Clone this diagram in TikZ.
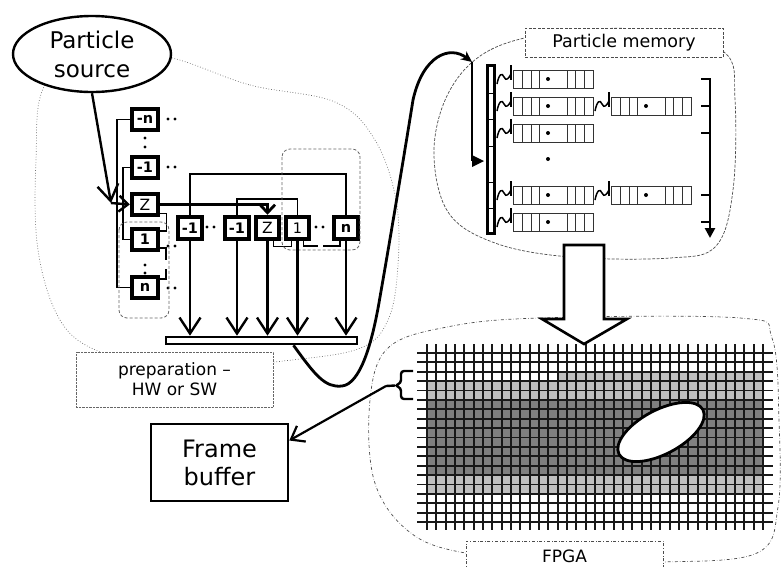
\documentclass[tikz,border=0pt]{standalone}
\usepackage{fontspec}
\setmainfont{DejaVu Sans}
\usetikzlibrary{shapes.geometric,arrows.meta,positioning}

\newcommand{\record}[2]{%
  \begin{scope}[shift={(#1,#2)}, line width=0.9pt]
 \draw[black!80] (0,0) rectangle (80,18);
 \foreach \u in {9,18,26,54,62,71} \draw[black!80] (\u,0) -- (\u,18);
 \fill (35,9) circle (2);
\end{scope}}

\newcommand{\squig}[2]{%
  \begin{scope}[shift={(#1,#2)}, line width=1.5pt]
 \draw (0,14) .. controls (2,4) and (5,2) .. (7,7) .. controls (9,12) and (12,8) .. (14,4);
 \draw (14,-5) -- (14,10);
\end{scope}}

\newcommand{\twodots}[2]{\fill (#1,#2) circle (1.7) ++(7,0) circle (1.7);}

\begin{document}
\begin{tikzpicture}[x=1pt, y=-1pt,
  cell/.style={draw, line width=3.6pt, minimum width=26.5pt, minimum height=21.5pt, inner sep=0pt, font=\fontsize{14.5}{14.5}\selectfont\bfseries},
  rcell/.style={cell, minimum width=23.5pt, minimum height=22.5pt},
  zcell/.style={line width=4pt, font=\fontsize{15.5}{15.5}\selectfont\mdseries},
  wire/.style={line width=1.3pt},
  vee/.style={-{Straight Barb[length=16pt,width=21pt]}, line width=2.4pt},
  tag/.style={draw=black!60, densely dotted, fill=white, inner sep=0pt, align=center},
  outline/.style={draw=black!60, dotted, line width=0.7pt}]
\useasboundingbox (0,0) rectangle (782,566);

% regions
\draw[outline] plot [smooth cycle, tension=0.6] coordinates {(172,58) (250,85) (335,102) (375,140) (396,200) (398,265) (388,320) (358,349) (275,362) (180,372) (100,352) (60,320) (38,250) (36,160) (45,85) (100,50)};
\draw[draw=black!70, dash pattern=on 3pt off 1.5pt, line width=0.7pt] plot [smooth cycle, tension=0.6] coordinates {(560,32) (490,50) (450,90) (434,150) (448,212) (495,243) (570,257) (670,258) (716,246) (733,190) (735,100) (724,52) (650,30)};
\draw[draw=black!70, dash dot, line width=0.7pt] plot [smooth cycle, tension=0.6] coordinates {(447,327) (540,318) (740,318) (772,338) (779,420) (778,507) (757,553) (663,562) (560,560) (460,552) (407,530) (374,480) (370,400) (388,348)};

\node[ellipse, draw, line width=2.4pt, fill=white, minimum width=158pt, minimum height=76pt, inner sep=0pt, align=center, font=\fontsize{23}{29}\selectfont] (src) at (92,54) {Particle\\source};

% left column
\node[cell] (mn) at (145,119.5) {-n};
\node[cell] (m1) at (145,167.5) {-1};
\node[cell, zcell] (z0) at (145,204.5) {Z};
\node[cell] (p1) at (145,239.5) {1};
\node[cell] (pn) at (145,287.5) {n};
\fill (145,138) circle (1.7) (145,147) circle (1.7) (145,265) circle (1.7) (145,273) circle (1.7);
\twodots{168}{119} \twodots{168}{167} \twodots{168}{246} \twodots{168}{288}
\draw[wire] (mn.west) -- ++(-13,0) |- (pn.west);
\draw[wire] (m1.west) -- ++(-7,0) |- (p1.west);
\draw[wire] ([yshift=4pt]z0.south east) -- ++(6,0) |- ([yshift=-4pt]p1.north east);
\draw[wire] ([yshift=4pt]p1.south east) -- ++(6,0) -- ++(0,12);
\draw[wire] ([yshift=-4pt]pn.north east) -- ++(6,0) -- ++(0,-10);
\draw[black!60, densely dashed, line width=0.8pt, rounded corners=8pt] (119,222) rectangle (169,318);

\coordinate (entry) at (111,203);
\draw[vee] (src.south) -- (entry);
\draw[-{Straight Barb[length=9pt,width=16pt]}, line width=2.4pt] (entry) -- (z0.west);

% row
\node[rcell] (r1) at (190,228) {-1};
\node[rcell] (r2) at (237,228) {-1};
\node[rcell, zcell] (rz) at (267.5,228) {Z};
\node[rcell, font=\fontsize{14.5}{14.5}\selectfont\mdseries] (r3) at (297.5,228) {1};
\node[rcell] (rn) at (346,228) {n};
\twodots{207}{227} \twodots{316}{227}
\draw[wire] (r1.north) -- ++(0,-41) -| (rn.north);
\draw[wire] (r2.north) -- ++(0,-16) -| (r3.north);
\draw[line width=2.8pt, -{Straight Barb[length=8pt,width=15pt]}] (z0.east) -| (rz.north);
\draw[wire] ([xshift=6pt]rz.south) -- ++(0,5) -| ([xshift=-6pt]r3.south);
\draw[wire] ([xshift=6pt]r3.south) -- ++(0,5) -- ++(14,0);
\draw[wire] ([xshift=-6pt]rn.south) -- ++(0,5) -- ++(-17,0);
\draw[black!60, densely dashed, line width=0.8pt, rounded corners=8pt] (282,149) rectangle (360,250);

\node[draw, line width=2.6pt, minimum width=191pt, minimum height=7pt, inner sep=0pt] (bar) at (261.5,340.5) {};
\foreach \c in {r1,r2,rz,r3,rn} \draw[vee] (\c.south) -- (\c.south |- bar.north);

\node[tag, minimum width=197pt, minimum height=55pt, font=\fontsize{17}{20}\selectfont] (prep) at (174.5,379.5) {preparation –\\HW or SW};

% memory
\node[draw=black!70, dash pattern=on 3pt off 1.5pt, fill=white, minimum width=198pt, minimum height=29pt, inner sep=0pt, font=\fontsize{17.5}{20}\selectfont] (pmlab) at (624,42.5) {Particle memory};
\node[draw, line width=2.6pt, minimum width=7pt, minimum height=168pt, inner sep=0pt] (arr) at (491,149.5) {};
\foreach \yy in {93,119,146,182,208} \draw[line width=0.7pt] (487,\yy) -- (495,\yy);
\foreach \yy in {70,97,124,186,213} {\record{513}{\yy} \squig{497}{\yy}}
\record{611}{97} \record{611}{186}
\squig{595}{97} \squig{595}{186}
\fill (548,159) circle (2);

\coordinate (memin) at (472,62);
\coordinate (memdn) at (472,161);
\draw[line width=2.8pt, -{Stealth[length=11pt,width=10pt]}] ([xshift=32pt]bar.south) .. controls (315,375) and (325,388) .. (342,386) .. controls (360,384) and (372,345) .. (380,297) .. controls (390,240) and (405,150) .. (413,100) .. controls (423,55) and (450,45) .. (memin);
\draw[line width=2.8pt] (memin) -- (memdn);
\fill (memdn) ++(0,-6) -- ++(12,6) -- ++(-12,6) -- cycle;

\draw[line width=2.8pt, -{Triangle[length=10pt,width=10pt]}] (701,79) -- (710,79) -- (710,238);
\foreach \yy in {106,133,195,222} \draw[line width=2.8pt] (701,\yy) -- (710,\yy);

% fpga grid
\fill[black!25] (557.7,371.8) rectangle (763,381.2);
\fill[black!25] (427,381.2) rectangle (763,399.9);
\fill[black!50] (427,399.9) rectangle (763,475.1);
\fill[black!25] (427,475.1) rectangle (763,493.8);
\foreach \i in {0,...,36} \draw[line width=1.8pt, black!90] ({427+\i*9.333},344) -- ++(0,186);
\foreach \i in {0,...,18} \draw[line width=1.8pt, black!90] (417,{353+\i*9.389}) -- ++(356,0);
\node[ellipse, draw, line width=2.8pt, fill=white, minimum width=95pt, minimum height=44pt, rotate=28] (blob) at (661,432) {};
\draw[line width=2.6pt, fill=white] (564,245) -- (604,245) -- (604,319) -- (627,319) -- (584,344) -- (542,319) -- (564,319) -- cycle;

\node[draw=black!70, dash dot, fill=white, minimum width=197pt, minimum height=30pt, inner sep=0pt, anchor=north, font=\fontsize{17}{20}\selectfont] (fpga) at (564.5,541) {FPGA};

% frame buffer
\node[draw, line width=2.6pt, minimum width=137pt, minimum height=77pt, align=center, font=\fontsize{24}{28}\selectfont] (fb) at (219.5,462.5) {Frame\\buffer};
\draw[line width=2.4pt, rounded corners=3pt] (413,371) -- (401,371) -- (401,383) -- (395,385.5) -- (401,388) -- (401,399) -- (413,399);
\coordinate (brtip) at (386,386);
\draw[line width=2.4pt] (brtip) -- (395,385.5);
\draw[line width=2.2pt, -{Straight Barb[length=12pt,width=18pt]}] (brtip) -- ([yshift=22pt]fb.east);
\end{tikzpicture}
\end{document}
